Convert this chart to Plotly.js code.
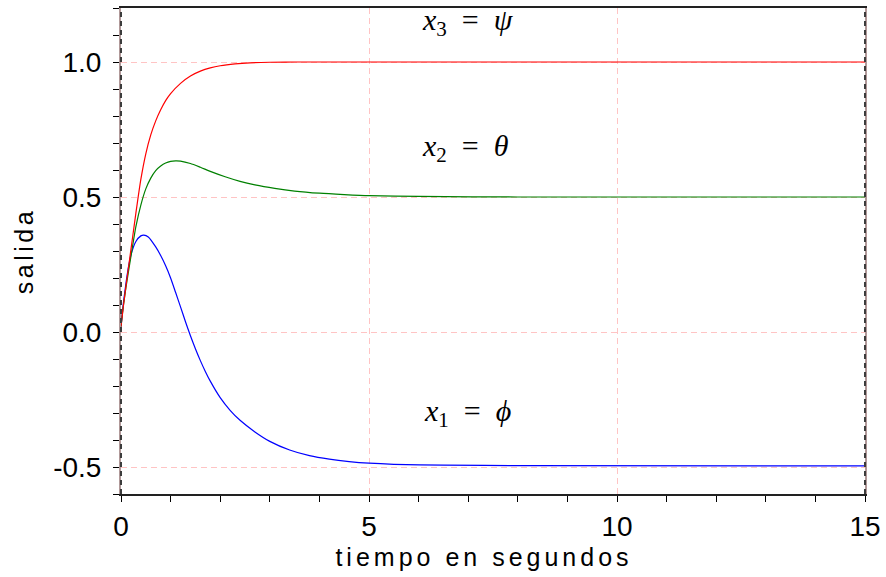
<!DOCTYPE html>
<html>
<head>
<meta charset="utf-8">
<script src="https://cdn.plot.ly/plotly-3.0.1.min.js"></script>
<style>
  html, body { margin: 0; padding: 0; background: #fff; }
  #chart { width: 886px; height: 577px; }
  .xtitle { letter-spacing: 4px; transform: translateX(-9px); }
  .ytitle { letter-spacing: 3.5px; }
</style>
</head>
<body>
<div id="chart"></div>
<script>
// time samples and series values
const tX3 = [0, 0.05, 0.1, 0.2, 0.3, 0.4, 0.5, 0.6, 0.7, 0.8, 0.9, 1.0, 1.2, 1.4, 1.6, 1.8, 2.0, 2.3, 2.6, 3.0, 3.5, 15];
const x3 = [0.02, 0.1, 0.17, 0.305, 0.44, 0.565, 0.66, 0.73, 0.782, 0.823, 0.857, 0.883, 0.921, 0.948, 0.966, 0.978, 0.986, 0.993, 0.997, 0.999, 1.0, 1.0];

const tX2 = [0, 0.05, 0.1, 0.2, 0.3, 0.4, 0.5, 0.6, 0.7, 0.8, 0.9, 1.0, 1.1, 1.2, 1.4, 1.6, 1.8, 2.1, 2.4, 2.7, 3.1, 3.5, 4.0, 4.5, 5.0, 6.0, 8.0, 15];
const x2 = [0.02, 0.1, 0.165, 0.28, 0.39, 0.47, 0.53, 0.57, 0.598, 0.615, 0.626, 0.632, 0.634, 0.633, 0.624, 0.61, 0.595, 0.575, 0.558, 0.545, 0.532, 0.522, 0.514, 0.509, 0.505, 0.502, 0.5, 0.5];

const tX1 = [0, 0.05, 0.1, 0.15, 0.2, 0.3, 0.4, 0.46, 0.55, 0.7, 0.8, 0.9, 1.0, 1.1, 1.2, 1.3, 1.4, 1.5, 1.6, 1.7, 1.8, 2.0, 2.2, 2.4, 2.7, 3.0, 3.4, 3.8, 4.2, 4.6, 5.0, 5.5, 6.5, 8.0, 15];
const x1 = [0.02, 0.11, 0.18, 0.24, 0.285, 0.335, 0.356, 0.359, 0.352, 0.315, 0.283, 0.245, 0.2, 0.147, 0.093, 0.038, -0.014, -0.062, -0.106, -0.146, -0.182, -0.243, -0.29, -0.327, -0.37, -0.405, -0.437, -0.458, -0.471, -0.48, -0.486, -0.49, -0.493, -0.495, -0.496];

const xTickVals = [0, 5, 10, 15];
const xTickText = ["0", "5", "10", "15"];
const yTickVals = [-0.5, 0, 0.5, 1.0];
const yTickText = ["-0.5", "0.0", "0.5", "1.0"];

const labels = [
  {text: "<i>x</i><sub>3</sub>&nbsp; = &nbsp;<i>ψ</i>", t: 7.0, v: 1.149},
  {text: "<i>x</i><sub>2</sub>&nbsp; = &nbsp;<i>θ</i>", t: 6.95, v: 0.683},
  {text: "<i>x</i><sub>1</sub>&nbsp; = &nbsp;<i>ϕ</i>", t: 6.98, v: -0.299}
];

const line = (t, v, color) => ({
  x: t, y: v, type: "scatter", mode: "lines",
  line: {color: color, width: 1.2, shape: "spline", smoothing: 0.6},
  showlegend: false, hoverinfo: "skip"
});

const data = [
  line(tX1, x1, "#0000ff"),
  line(tX2, x2, "#008000"),
  line(tX3, x3, "#ff0000")
];

const gridCol = "#ffc4c4";
const layout = {
  width: 886, height: 577,
  margin: {l: 121, r: 21, t: 8, b: 83},
  paper_bgcolor: "#ffffff", plot_bgcolor: "#ffffff",
  font: {family: "Liberation Sans, Arial, sans-serif", color: "#000", size: 28},
  showlegend: false,
  xaxis: {
    range: [0, 15], tickvals: xTickVals, ticktext: xTickText,
    ticks: "outside", ticklen: 6, tickcolor: "#000", tickwidth: 1,
    minor: {dtick: 1, ticks: "outside", ticklen: 6, tickcolor: "#000", showgrid: false},
    showgrid: true, gridcolor: gridCol, griddash: "6px,4px", gridwidth: 1,
    zeroline: false, showline: true, linecolor: "#222", linewidth: 2, mirror: true,
    tickfont: {size: 28}, ticklabelstandoff: 0,
    title: {text: "tiempo en segundos", font: {size: 25}, standoff: 8},
    fixedrange: true
  },
  yaxis: {
    range: [-0.6, 1.2], tickvals: yTickVals, ticktext: yTickText,
    ticks: "outside", ticklen: 6, tickcolor: "#000", tickwidth: 1,
    minor: {dtick: 0.1, ticks: "outside", ticklen: 6, tickcolor: "#000", showgrid: false},
    showgrid: true, gridcolor: gridCol, griddash: "6px,4px", gridwidth: 1,
    zeroline: false, showline: true, linecolor: "#b09898", linewidth: 2, mirror: true,
    tickfont: {size: 28}, ticklabelstandoff: 6,
    title: {text: "salida", font: {size: 25}, standoff: 12},
    fixedrange: true
  },
  shapes: [
    {type: "line", xref: "paper", yref: "paper", x0: 0, x1: 0, y0: 0, y1: 1,
     line: {color: "#3c3c3c", width: 2, dash: "5px,4px"}, layer: "above"},
    {type: "line", xref: "paper", yref: "paper", x0: 1, x1: 1, y0: 0, y1: 1,
     line: {color: "#3c3c3c", width: 2, dash: "5px,4px"}, layer: "above"}
  ],
  annotations: labels.map(a => ({
    x: a.t, y: a.v, xref: "x", yref: "y", text: a.text, showarrow: false,
    xanchor: "center", yanchor: "middle",
    font: {family: "Liberation Serif, DejaVu Serif, serif", size: 30, color: "#000"}
  }))
};

Plotly.newPlot("chart", data, layout, {displayModeBar: false, staticPlot: true});
</script>
</body>
</html>
